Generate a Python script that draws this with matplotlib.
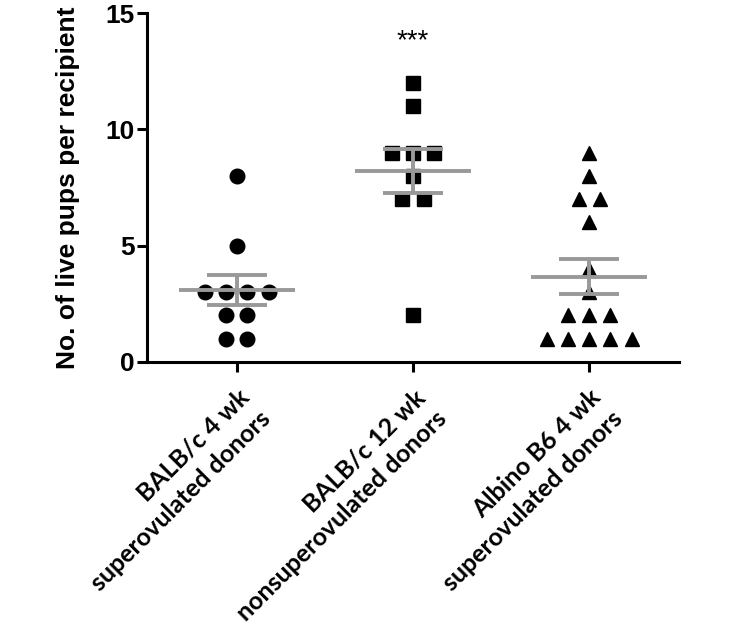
import numpy as np
import matplotlib
matplotlib.use("Agg")
import matplotlib.pyplot as plt

# live pups per recipient
balbc_4wk_super = [8, 5, 3, 3, 3, 3, 2, 2, 1, 1]
balbc_12wk_nonsuper = [12, 11, 9, 9, 9, 8, 7, 7, 2]
albino_b6_4wk_super = [9, 8, 7, 7, 6, 4, 3, 2, 2, 2, 1, 1, 1, 1, 1]

groups = [balbc_4wk_super, balbc_12wk_nonsuper, albino_b6_4wk_super]
group_labels = ["BALB/c 4 wk\nsuperovulated donors",
                "BALB/c 12 wk\nnonsuperovulated donors",
                "Albino B6 4 wk\nsuperovulated donors"]
markers = ["o", "s", "^"]
yticks = [0, 5, 10, 15]
signif = "***"

GRAY = "#999999"
STEP = 0.12


def spread(values, center):
    """place points with equal values side by side"""
    xs = []
    for v in values:
        n = values.count(v)
        k = sum(1 for x, vv in zip(xs, values) if vv == v)
        xs.append(center + (k - (n - 1) / 2) * STEP)
    return xs


fig = plt.figure(figsize=(7.35, 6.28), dpi=100)
ax = fig.add_axes([0.2, 0.4236, 0.724, 0.5554])

for i, vals in enumerate(groups):
    xs = spread(vals, i)
    ax.plot(xs, vals, linestyle="none", marker=markers[i], color="black",
            markersize=10.5, zorder=2)
    m = np.mean(vals)
    sem = np.std(vals, ddof=1) / np.sqrt(len(vals))
    ax.hlines(m, i - 0.33, i + 0.33, color=GRAY, lw=2.8, zorder=3)
    ax.hlines([m - sem, m + sem], i - 0.17, i + 0.17, color=GRAY, lw=2.8, zorder=3)
    ax.vlines(i, m - sem, m + sem, color=GRAY, lw=2.8, zorder=3)

ax.text(1, 13.78, signif, ha="center", va="center", fontsize=20,
        family="Liberation Sans")

ax.set_xlim(-0.51, 2.51)
ax.set_ylim(0, 15)
ax.set_yticks(yticks)
ax.set_yticklabels([str(t) for t in yticks], fontsize=19, fontweight="bold",
                   family="Liberation Sans")
ax.set_xticks(range(len(groups)))
ax.set_xticklabels(group_labels, rotation=45, ha="right", va="top",
                   rotation_mode="anchor", multialignment="right",
                   fontsize=18, fontweight="bold", family="Lato",
                   linespacing=1.4)
ax.set_ylabel("No. of live pups per recipient", fontsize=19, fontweight="bold",
              family="Liberation Sans", labelpad=18)

for side in ["top", "right"]:
    ax.spines[side].set_visible(False)
for side in ["left", "bottom"]:
    ax.spines[side].set_linewidth(2.2)
ax.tick_params(width=2.2, length=7, pad=2)
ax.tick_params(axis="x", pad=10)

fig.savefig("out.png", dpi=100)
